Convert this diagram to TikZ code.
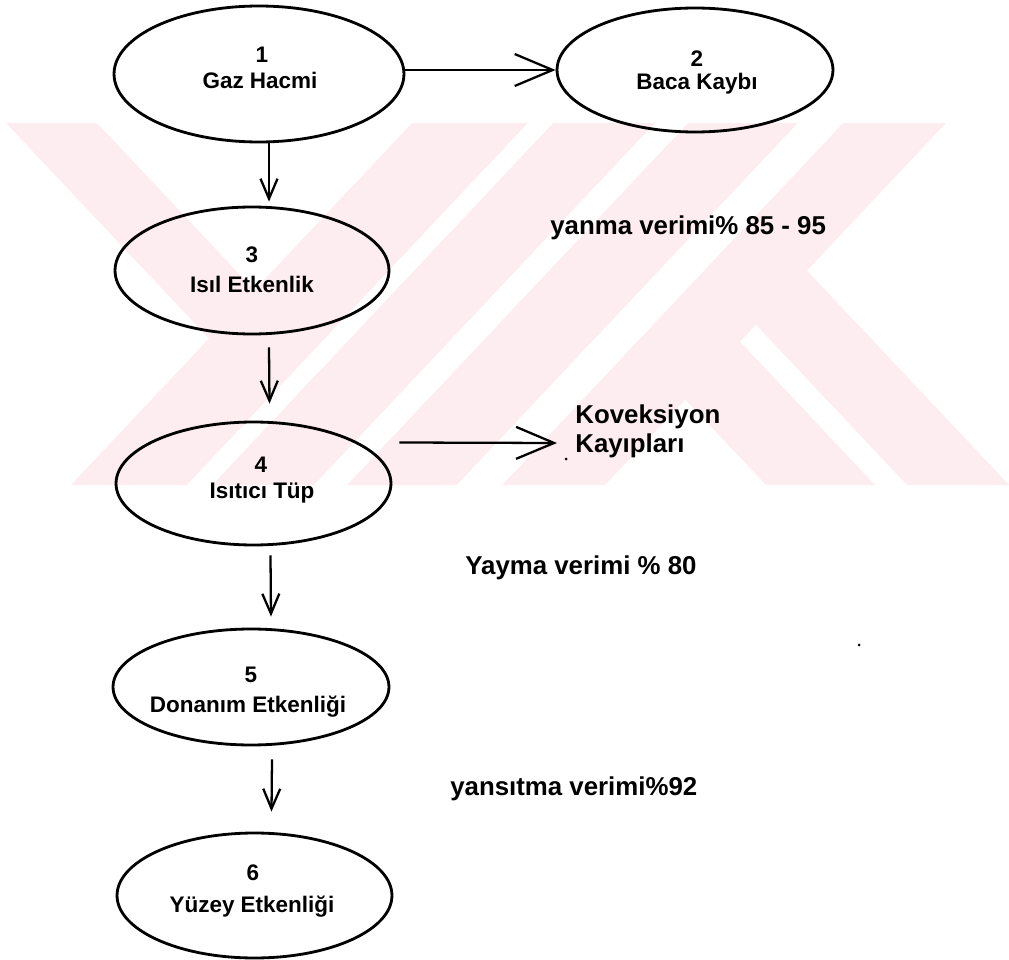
\documentclass[tikz,border=0pt]{standalone}
\usepackage{fontspec}
\setmainfont{Liberation Sans}
\usetikzlibrary{shapes.geometric,arrows.meta,calc}
\definecolor{wm}{RGB}{253,236,240}
\begin{document}
\begin{tikzpicture}[x=0.02cm,y=-0.02cm,
  ell/.style={draw=black, ellipse, line width=1.6pt, inner sep=0pt},
  numtxt/.style={font=\fontsize{12.8}{15}\selectfont\bfseries, anchor=base, inner sep=0pt},
  lbl/.style={font=\fontsize{14.7}{17}\selectfont\bfseries, anchor=base west, inner sep=0pt},
  harr/.style={line width=1.3pt, -{Straight Barb[length=0.76cm,width=0.64cm]}},
  varr/.style={line width=1.3pt, -{Straight Barb[length=0.4cm,width=0.34cm]}},
  wmk/.style={fill=wm, draw=none},
  wgap/.style={fill=white, draw=none}
]
\useasboundingbox (0,0) rectangle (1009,960);
% watermark: back-slash stripes
\fill[wmk] (6,123) -- (97,123) -- (438,485) -- (347,485) -- cycle;
\fill[wmk] (425,123) -- (534,123) -- (875,485) -- (766,485) -- cycle;
\fill[wmk] (566,123) -- (668,123) -- (1009,485) -- (907,485) -- cycle;
% watermark: slash stripes
\fill[wmk] (688,123) -- (798,123) -- (457,485) -- (347,485) -- cycle;
\fill[wmk] (412,123) -- (528,123) -- (187,485) -- (71,485) -- cycle;
\fill[wmk] (553,123) -- (658,123) -- (317,485) -- (212,485) -- cycle;
\fill[wmk] (843,123) -- (946,123) -- (605,485) -- (502,485) -- cycle;
% watermark: white slash gaps
\fill[wgap] (528,123) -- (553,123) -- (212,485) -- (187,485) -- cycle;
\fill[wgap] (655,123) -- (688,123) -- (347,485) -- (314,485) -- cycle;
\fill[wgap] (798,123) -- (843,123) -- (502,485) -- (457,485) -- cycle;

% ellipses
\node[ell, minimum width=5.8cm,  minimum height=2.72cm] (e1) at (259,74) {};
\node[ell, minimum width=5.52cm, minimum height=2.48cm] (e2) at (695,70) {};
\node[ell, minimum width=5.48cm, minimum height=2.54cm] (e3) at (252,270.5) {};
\node[ell, minimum width=5.5cm,  minimum height=2.46cm] (e4) at (253.5,483.5) {};
\node[ell, minimum width=5.52cm, minimum height=2.32cm] (e5) at (251,687) {};
\node[ell, minimum width=5.5cm,  minimum height=2.5cm]  (e6) at (254.5,895.5) {};

% ellipse texts
\node[numtxt] (n1) at (262,62) {1};
\node[numtxt] (t1) at (260,89) {Gaz Hacmi};
\node[numtxt] (n2) at (697,67) {2};
\node[numtxt] (t2) at (697,90) {Baca Kaybı};
\node[numtxt] (n3) at (252,262) {3};
\node[numtxt] (t3) at (252,292) {Isıl Etkenlik};
\node[numtxt] (n4) at (261,472) {4};
\node[numtxt] (t4) at (262,498) {Isıtıcı Tüp};
\node[numtxt] (n5) at (251,682) {5};
\node[numtxt] (t5) at (248,712) {Donanım Etkenliği};
\node[numtxt] (n6) at (253,880) {6};
\node[numtxt] (t6) at (252,912) {Yüzey Etkenliği};

% side texts
\node[lbl] (yv) at (550,234) {yanma verimi\% 85 - 95};
\node[lbl] (kv1) at (575,423) {Koveksiyon};
\node[lbl] (kv2) at (575,452) {Kayıpları};
\node[lbl] (ya) at (465,574) {Yayma verimi \% 80};
\node[lbl] (ys) at (450,795) {yansıtma verimi\%92};

% connectors
\coordinate (kt) at (557,443);
\draw[harr] (e1.east |- e2.west) -- (e2.west);
\draw[varr] ($(e1.south)+(10,0)$) -- ($(e3.north)+(17,-4)$);
\draw[varr] ($(e3.south)+(17,12)$) -- ($(e4.north)+(16,-17)$);
\draw[harr] ($(e4.east)+(7,-41)$) -- (kt);
\draw[varr] ($(e4.south)+(17,9)$) -- ($(e5.north)+(20,-11)$);
\draw[varr] ($(e5.south)+(21,13)$) -- ($(e6.north)+(17,-20)$);

% scan specks
\fill (566,459) circle[radius=0.03cm];
\fill (859,645) circle[radius=0.03cm];
\end{tikzpicture}
\end{document}
